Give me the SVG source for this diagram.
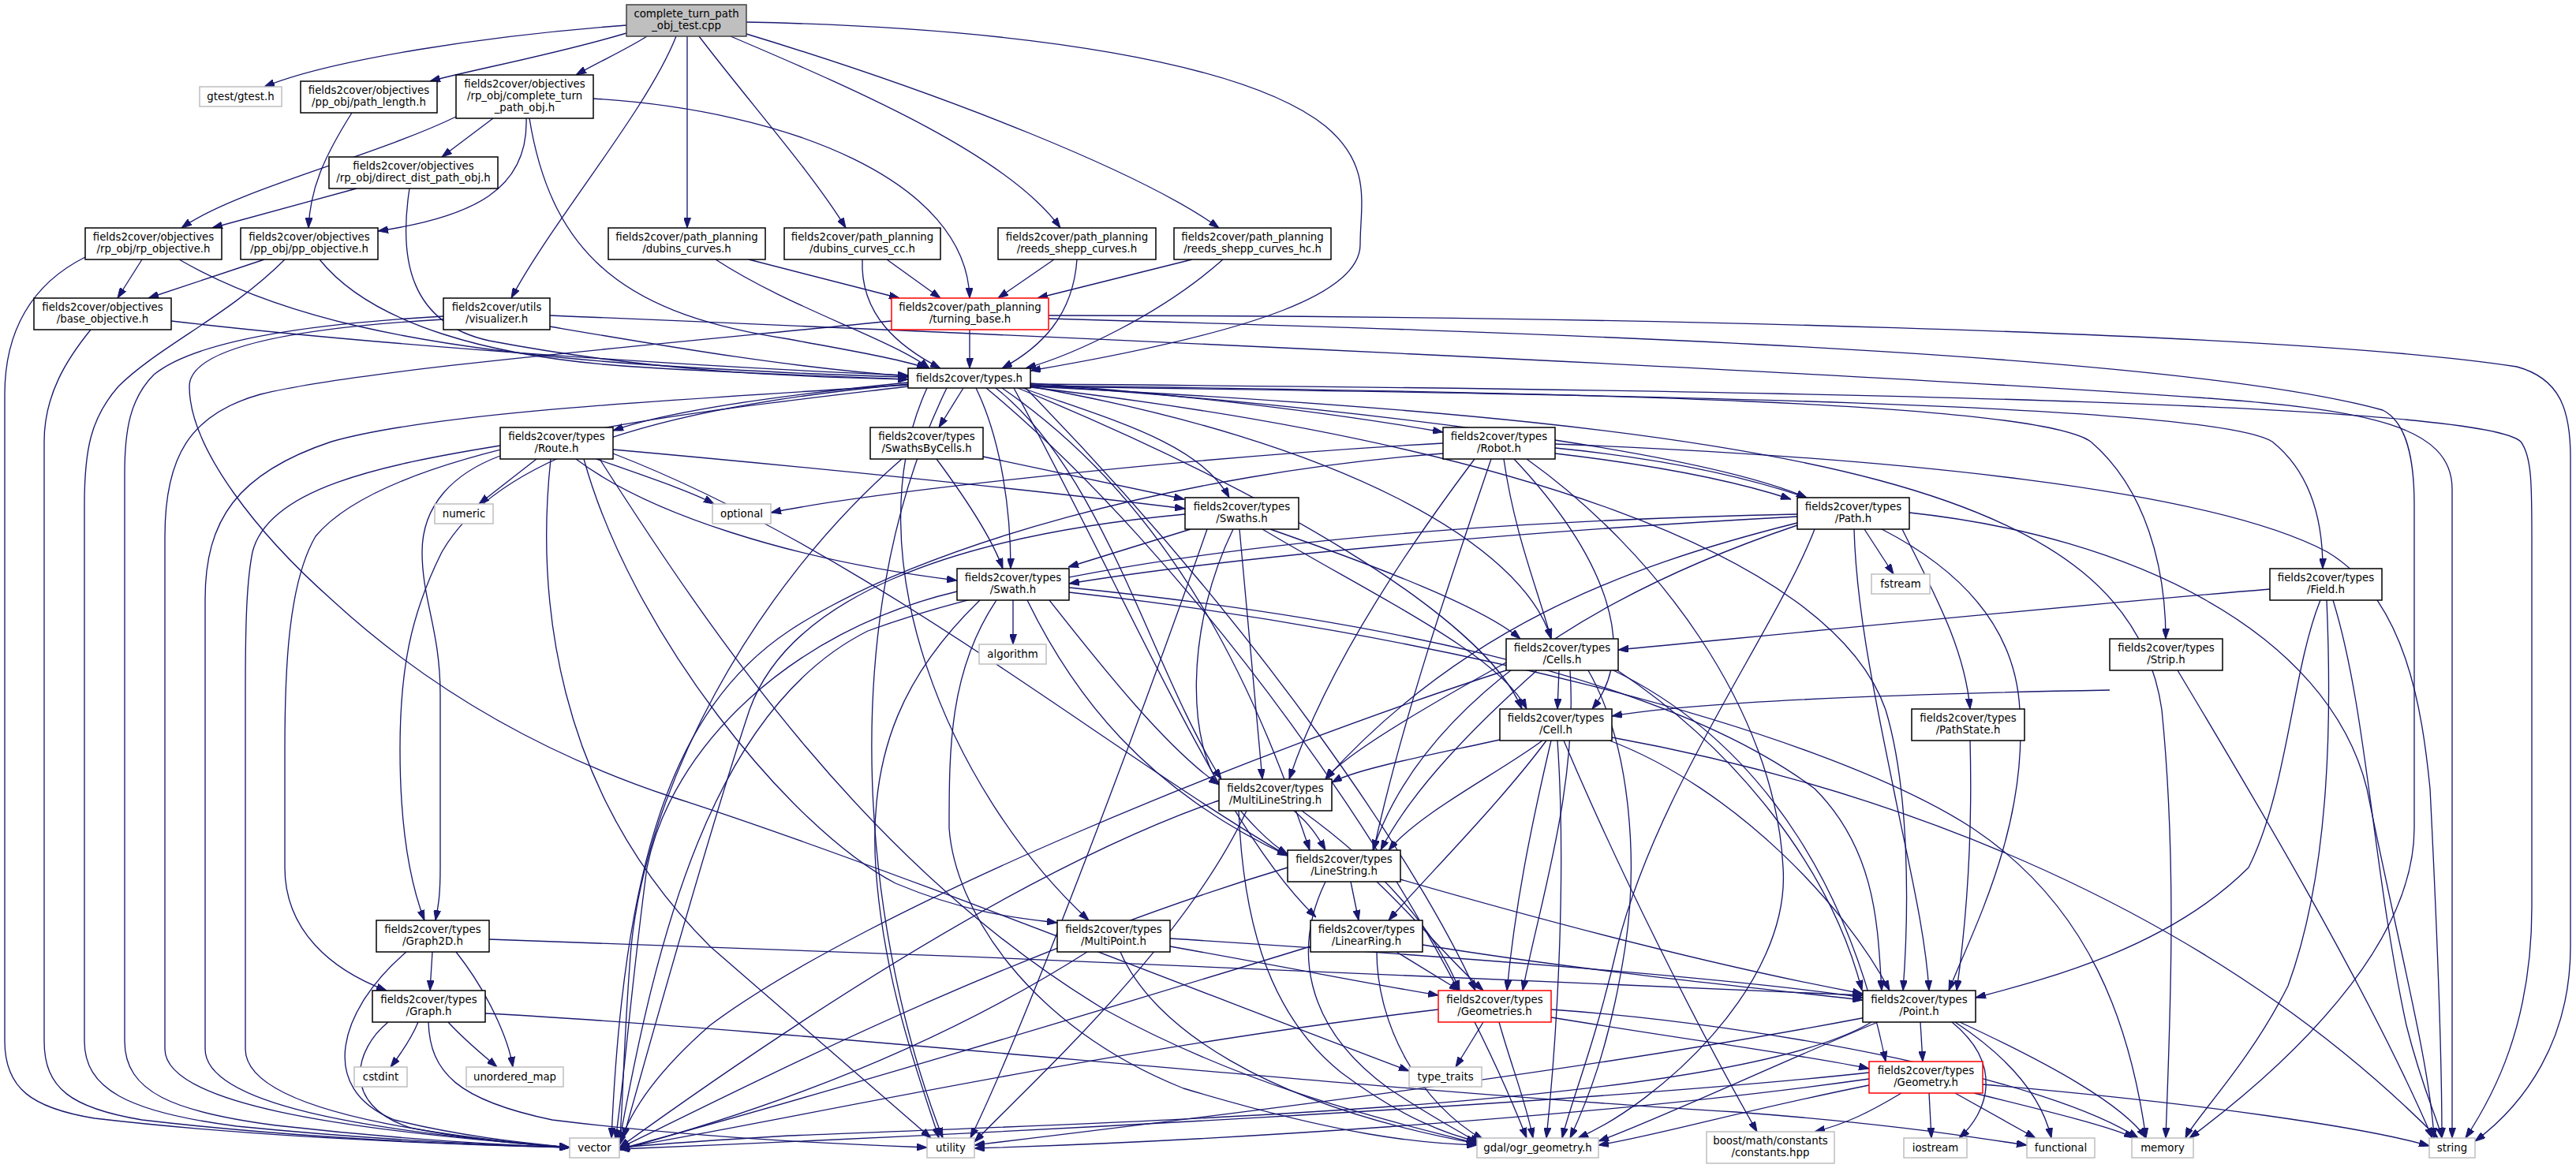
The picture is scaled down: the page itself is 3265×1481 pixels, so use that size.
<svg xmlns="http://www.w3.org/2000/svg" width="3265" height="1481" viewBox="0 0 3265 1481">
<style>
.e{fill:none;stroke:#191970;stroke-width:1.33;marker-end:url(#ah)}
.n rect{fill:#fff;stroke:#000;stroke-width:1.5}
.s rect{fill:#fff;stroke:#bfbfbf;stroke-width:1.5}
.r rect{fill:#fff;stroke:#ff0000;stroke-width:1.5}
.root rect{fill:#bfbfbf;stroke:#404040;stroke-width:1.5}
text{font-family:"DejaVu Sans","Liberation Sans",sans-serif;font-size:13.33px;text-anchor:middle;fill:#000}
</style>
<defs>
<marker id="ah" viewBox="0 0 13 9" refX="13" refY="4.5" markerWidth="13" markerHeight="9" markerUnits="userSpaceOnUse" orient="auto"><path d="M0,0 L13,4.5 L0,9 z" fill="#191970" stroke="#191970" stroke-width="1"/></marker>
</defs>
<rect width="3265" height="1481" fill="#fff"/>
<g id="edges">
<path class="e" d="M794,32 C620,45 420,75 335,110"/>
<path class="e" d="M794,42 C700,70 600,88 545,103"/>
<path class="e" d="M820,46 C795,62 760,78 730,95"/>
<path class="e" d="M857,46 C820,140 700,280 648,378"/>
<path class="e" d="M871,46 L871,289"/>
<path class="e" d="M886,46 C950,130 1030,220 1072,289"/>
<path class="e" d="M926,46 C1100,120 1280,200 1344,289"/>
<path class="e" d="M946,43 C1200,120 1450,220 1545,289"/>
<path class="e" d="M946,28 C1300,35 1580,80 1680,160 C1740,210 1724,260 1724,310 C1724,370 1600,420 1306,470"/>
<path class="e" d="M446,143 C410,200 393,240 391,289"/>
<path class="e" d="M625,150 L560,199"/>
<path class="e" d="M578,148 C470,200 300,240 230,289"/>
<path class="e" d="M667,150 C670,240 600,275 479,293"/>
<path class="e" d="M752,125 C1000,140 1225,230 1229,378"/>
<path class="e" d="M671,150 C700,330 800,400 1000,430 C1080,445 1140,455 1175,467"/>
<path class="e" d="M452,239 L269,289"/>
<path class="e" d="M519,239 C505,330 520,410 620,432 C820,470 1000,478 1151,481"/>
<path class="e" d="M180,329 L149,378"/>
<path class="e" d="M108,326 C40,360 6,420 6,500 L6,1320 C6,1380 40,1405 120,1418 C350,1445 600,1452 722,1455"/>
<path class="e" d="M227,329 C350,400 520,440 800,461 C950,471 1070,476 1151,478"/>
<path class="e" d="M335,329 L188,378"/>
<path class="e" d="M361,329 C290,400 200,440 150,490 C115,530 107,570 107,640 L107,1320 C107,1380 160,1410 300,1428 C500,1448 650,1452 722,1455"/>
<path class="e" d="M405,329 C470,410 620,455 820,466 C950,474 1080,478 1151,481"/>
<path class="e" d="M217,407 C500,440 900,466 1151,476"/>
<path class="e" d="M115,418 C85,455 56,500 56,560 L56,1320 C56,1380 90,1405 180,1420 C400,1446 620,1452 722,1455"/>
<path class="e" d="M697,414 C850,440 1000,466 1151,477"/>
<path class="e" d="M562,401 C400,410 250,430 195,475 C165,505 158,545 158,600 L158,1320 C158,1385 220,1410 350,1427 C500,1444 640,1452 722,1455"/>
<path class="e" d="M562,405 C440,412 240,430 240,490 C240,570 330,680 420,760 C550,880 700,960 850,1010 C1100,1090 1500,1250 1786,1358"/>
<path class="e" d="M697,400 C1300,425 2300,470 2800,505 C3000,520 3108,540 3108,620 L3108,1443"/>
<path class="e" d="M949,329 L1140,378"/>
<path class="e" d="M907,329 C1000,390 1130,430 1178,467"/>
<path class="e" d="M1124,329 L1192,378"/>
<path class="e" d="M1093,329 C1090,400 1140,440 1192,467"/>
<path class="e" d="M1336,329 L1265,378"/>
<path class="e" d="M1365,329 C1360,400 1320,440 1270,467"/>
<path class="e" d="M1511,329 L1315,378"/>
<path class="e" d="M1550,329 C1470,400 1360,450 1300,467"/>
<path class="e" d="M1229,418 L1229,467"/>
<path class="e" d="M1130,407 C800,440 450,470 330,500 C240,525 209,580 209,680 L209,1330 C209,1398 420,1432 722,1455"/>
<path class="e" d="M1329,400 C2000,400 2900,420 3190,465 C3245,480 3258,520 3258,580 L3258,1200 C3258,1320 3200,1400 3137,1447"/>
<path class="e" d="M1329,404 C1900,420 2750,445 3020,520 C3050,535 3060,580 3060,640 L3060,1050 C3060,1200 2900,1350 2775,1443"/>
<path class="e" d="M1151,485 C1000,500 850,520 777,546"/>
<path class="e" d="M1221,492 L1190,542"/>
<path class="e" d="M1306,486 C1500,500 1700,525 1829,548"/>
<path class="e" d="M1296,492 C1400,530 1520,560 1558,631"/>
<path class="e" d="M1306,488 C1700,515 2150,570 2290,631"/>
<path class="e" d="M1237,492 C1270,560 1281,650 1281,721"/>
<path class="e" d="M1306,490 C1700,560 1930,690 1966,810"/>
<path class="e" d="M1290,492 C1600,620 1880,780 1929,899"/>
<path class="e" d="M1306,490 C2000,500 2800,510 2880,560 C2930,600 2944,660 2944,721"/>
<path class="e" d="M1306,489 C2000,497 2580,510 2650,560 C2720,620 2745,720 2745,810"/>
<path class="e" d="M1262,492 C1400,600 1460,850 1548,988"/>
<path class="e" d="M1270,492 C1500,650 1600,900 1660,1078"/>
<path class="e" d="M1285,492 C1450,800 1550,1050 1668,1163"/>
<path class="e" d="M1175,492 C1080,700 1200,1000 1380,1167"/>
<path class="e" d="M1306,491 C1900,560 2320,700 2390,900 C2420,1000 2420,1150 2412,1256"/>
<path class="e" d="M1300,492 C1600,800 1800,1100 1870,1256"/>
<path class="e" d="M1151,487 C900,510 640,560 560,700 C520,780 507,850 507,950 C507,1050 520,1120 538,1167"/>
<path class="e" d="M1151,490 C900,520 500,560 400,680 C365,740 361,850 361,950 L361,1100 C361,1180 420,1230 490,1256"/>
<path class="e" d="M1151,488 C900,505 560,520 420,560 C300,600 260,660 260,760 L260,1330 C260,1400 460,1434 722,1455"/>
<path class="e" d="M1250,492 C1500,700 1800,1100 1935,1443"/>
<path class="e" d="M1306,487 C2400,495 3150,515 3195,560 C3210,580 3209,620 3209,700 L3209,1150 C3209,1300 3160,1390 3125,1443"/>
<path class="e" d="M1306,490 C2300,540 2700,620 2740,900 C2760,1100 2750,1300 2745,1443"/>
<path class="e" d="M1200,492 C1050,800 1100,1200 1195,1443"/>
<path class="e" d="M680,582 L607,639"/>
<path class="e" d="M756,582 C830,608 880,625 905,639"/>
<path class="e" d="M777,570 C1000,590 1300,620 1502,645"/>
<path class="e" d="M730,582 C820,650 1000,710 1213,736"/>
<path class="e" d="M634,578 C575,600 535,640 535,700 C535,760 558,800 558,880 L558,1100 C558,1140 555,1150 552,1167"/>
<path class="e" d="M634,565 C480,590 340,620 320,700 C312,740 311,800 311,880 L311,1330 C311,1400 500,1436 722,1455"/>
<path class="e" d="M698,582 C680,750 700,1000 900,1200 C1050,1330 1130,1400 1180,1443"/>
<path class="e" d="M760,582 C900,800 1100,1100 1400,1280 C1600,1390 1800,1430 1872,1450"/>
<path class="e" d="M740,582 C800,800 1000,1050 1135,1120 C1230,1160 1300,1165 1340,1170"/>
<path class="e" d="M777,575 C1100,700 1400,950 1632,1085"/>
<path class="e" d="M1246,579 L1501,633"/>
<path class="e" d="M1187,582 C1230,640 1260,690 1271,721"/>
<path class="e" d="M1143,582 C950,750 820,1000 800,1200 C790,1320 790,1400 785,1452"/>
<path class="e" d="M1829,562 C1500,580 1100,625 977,650"/>
<path class="e" d="M1829,575 C1500,600 1166,690 1000,800 C850,900 790,1100 775,1443"/>
<path class="e" d="M1869,582 C1780,700 1680,850 1634,988"/>
<path class="e" d="M1890,582 C1850,700 1780,900 1741,1078"/>
<path class="e" d="M1906,582 C1920,680 1950,750 1966,810"/>
<path class="e" d="M1919,582 C2030,700 2080,820 2018,899"/>
<path class="e" d="M1935,582 C2100,700 2250,900 2260,1100 C2270,1250 2100,1400 2000,1443"/>
<path class="e" d="M1971,575 C2100,590 2200,610 2270,633"/>
<path class="e" d="M1971,563 C2400,580 2800,620 2950,700 C3050,760 3070,900 3080,1000 C3090,1200 3095,1350 3095,1443"/>
<path class="e" d="M1971,568 C2300,600 2550,700 2560,900 C2570,1050 2500,1180 2470,1256"/>
<path class="e" d="M1509,671 L1354,719"/>
<path class="e" d="M1610,671 C1750,720 1880,770 1927,810"/>
<path class="e" d="M1600,671 C1750,760 1900,830 1935,899"/>
<path class="e" d="M1571,671 L1600,988"/>
<path class="e" d="M1563,671 C1500,800 1506,950 1550,1000 C1580,1040 1610,1070 1632,1083"/>
<path class="e" d="M1502,652 C1200,680 1000,760 950,900 C900,1050 830,1300 790,1443"/>
<path class="e" d="M1530,671 C1450,900 1300,1300 1230,1443"/>
<path class="e" d="M1284,761 L1284,817"/>
<path class="e" d="M1242,761 C1150,850 1100,950 1110,1100 C1120,1250 1170,1380 1190,1443"/>
<path class="e" d="M1263,761 C1203,850 1203,950 1203,1050 C1210,1150 1300,1300 1500,1380 C1700,1440 1800,1450 1872,1452"/>
<path class="e" d="M1302,761 C1360,880 1450,1000 1632,1085"/>
<path class="e" d="M1330,761 C1400,850 1480,950 1545,995"/>
<path class="e" d="M1355,745 C1700,780 2100,850 2300,1000 C2380,1080 2380,1180 2385,1256"/>
<path class="e" d="M1355,751 C1800,800 2300,920 2500,1050 C2650,1150 2700,1300 2720,1443"/>
<path class="e" d="M1213,750 C1000,800 850,950 820,1100 C800,1250 790,1380 780,1445"/>
<path class="e" d="M2278,655 C2000,670 1600,700 1355,740"/>
<path class="e" d="M2278,652 C1900,660 1400,690 1100,800 C900,900 830,1200 785,1448"/>
<path class="e" d="M2278,663 C2050,720 1850,800 1680,988"/>
<path class="e" d="M2278,666 C2000,760 1800,900 1740,1078"/>
<path class="e" d="M2411,671 C2450,750 2490,820 2497,899"/>
<path class="e" d="M2363,671 L2400,728"/>
<path class="e" d="M2350,671 C2353,780 2380,900 2400,1000 C2420,1100 2440,1180 2445,1256"/>
<path class="e" d="M2420,650 C2700,680 2950,800 3000,1000 C3040,1200 3080,1350 3085,1443"/>
<path class="e" d="M2300,671 C2250,800 2100,1000 2050,1200 C2020,1330 1990,1400 1980,1443"/>
<path class="e" d="M2497,939 C2500,1050 2495,1150 2480,1256"/>
<path class="e" d="M2877,747 C2600,770 2300,800 2051,824"/>
<path class="e" d="M2941,761 C2905,850 2900,1000 2850,1100 C2750,1200 2600,1240 2504,1265"/>
<path class="e" d="M2949,761 C2955,900 2955,1100 2900,1250 C2850,1350 2780,1420 2770,1443"/>
<path class="e" d="M2957,761 C3000,900 3007,1100 3050,1300 C3070,1380 3090,1420 3095,1443"/>
<path class="e" d="M2674,875 C2400,880 2150,890 2043,908"/>
<path class="e" d="M2760,850 C2850,1000 3000,1250 3083,1443"/>
<path class="e" d="M1909,850 C1600,950 1100,1150 900,1300 C820,1370 795,1420 785,1452"/>
<path class="e" d="M1948,850 C1870,920 1790,1000 1750,1078"/>
<path class="e" d="M1976,850 L1974,899"/>
<path class="e" d="M2013,850 C2070,950 2075,1100 2060,1200 C2040,1330 2010,1400 1990,1443"/>
<path class="e" d="M2050,850 C2200,950 2320,1100 2360,1256"/>
<path class="e" d="M2045,850 C2250,950 2350,1150 2390,1346"/>
<path class="e" d="M1909,840 C1800,900 1700,960 1680,988"/>
<path class="e" d="M1990,850 C2000,1000 1950,1150 1930,1256"/>
<path class="e" d="M1901,938 C1800,960 1720,975 1688,992"/>
<path class="e" d="M1955,939 C1900,980 1800,1030 1760,1078"/>
<path class="e" d="M1960,939 C1900,1020 1800,1120 1760,1167"/>
<path class="e" d="M1966,939 C1940,1050 1920,1150 1910,1256"/>
<path class="e" d="M1974,939 C1985,1100 1975,1300 1960,1443"/>
<path class="e" d="M1982,939 C2050,1100 2150,1300 2227,1435"/>
<path class="e" d="M2040,939 C2200,1000 2340,1150 2395,1256"/>
<path class="e" d="M2043,935 C2400,1000 2800,1150 3090,1443"/>
<path class="e" d="M1640,1028 C1660,1045 1670,1060 1680,1078"/>
<path class="e" d="M1545,1015 C1300,1100 1000,1300 785,1455"/>
<path class="e" d="M1580,1028 C1500,1200 1300,1380 1235,1448"/>
<path class="e" d="M1570,1028 C1575,1150 1600,1280 1700,1360 C1780,1420 1840,1440 1872,1447"/>
<path class="e" d="M1650,1028 C1750,1100 1820,1180 1850,1256"/>
<path class="e" d="M1712,1118 L1722,1167"/>
<path class="e" d="M1745,1118 C1800,1170 1830,1210 1880,1256"/>
<path class="e" d="M1775,1115 C2000,1180 2200,1230 2361,1260"/>
<path class="e" d="M1680,1118 C1640,1200 1650,1300 1760,1380 C1820,1420 1860,1440 1875,1450"/>
<path class="e" d="M1632,1100 C1300,1200 1000,1350 785,1456"/>
<path class="e" d="M1770,1207 L1850,1256"/>
<path class="e" d="M1803,1198 C2000,1230 2200,1250 2361,1268"/>
<path class="e" d="M1745,1207 C1745,1300 1800,1400 1880,1445"/>
<path class="e" d="M1661,1200 C1400,1280 1000,1400 785,1457"/>
<path class="e" d="M1483,1200 C1650,1230 1750,1250 1823,1262"/>
<path class="e" d="M1483,1190 C1800,1210 2200,1240 2361,1265"/>
<path class="e" d="M1420,1207 C1460,1300 1600,1400 1872,1450"/>
<path class="e" d="M1378,1207 C1200,1320 1000,1400 785,1458"/>
<path class="e" d="M548,1207 L545,1256"/>
<path class="e" d="M578,1207 C620,1260 645,1320 650,1353"/>
<path class="e" d="M515,1207 C430,1280 400,1380 500,1420 C600,1445 700,1452 722,1455"/>
<path class="e" d="M620,1191 C1200,1210 1900,1240 2361,1262"/>
<path class="e" d="M530,1296 C520,1320 505,1340 495,1353"/>
<path class="e" d="M568,1296 C590,1320 615,1340 630,1353"/>
<path class="e" d="M492,1296 C450,1330 430,1400 520,1430 C620,1450 700,1453 722,1455"/>
<path class="e" d="M543,1296 C545,1360 580,1395 700,1420 C900,1445 1100,1452 1175,1455"/>
<path class="e" d="M615,1285 C1000,1305 1700,1380 2200,1410 C2400,1425 2500,1442 2569,1452"/>
<path class="e" d="M1880,1296 L1845,1353"/>
<path class="e" d="M1900,1296 C1915,1350 1935,1400 1943,1443"/>
<path class="e" d="M1966,1290 C2150,1320 2300,1340 2369,1355"/>
<path class="e" d="M1966,1280 C2250,1300 2600,1370 2710,1443"/>
<path class="e" d="M1823,1280 C1400,1330 1000,1420 785,1456"/>
<path class="e" d="M2434,1296 L2437,1346"/>
<path class="e" d="M2474,1296 C2540,1350 2520,1410 2483,1443"/>
<path class="e" d="M2478,1296 C2560,1350 2590,1400 2600,1443"/>
<path class="e" d="M2484,1296 C2600,1350 2690,1400 2720,1443"/>
<path class="e" d="M2372,1296 C2200,1400 1500,1420 1000,1440 C900,1446 820,1452 785,1455"/>
<path class="e" d="M2380,1296 C2250,1350 2100,1420 2026,1447"/>
<path class="e" d="M2365,1290 C2000,1360 1500,1420 1235,1452"/>
<path class="e" d="M2445,1386 L2448,1443"/>
<path class="e" d="M2478,1386 L2580,1443"/>
<path class="e" d="M2502,1386 C2600,1410 2680,1430 2705,1443"/>
<path class="e" d="M2513,1375 C2800,1400 3000,1430 3079,1453"/>
<path class="e" d="M2369,1360 C2000,1400 1200,1440 785,1457"/>
<path class="e" d="M2369,1368 C2000,1420 1500,1448 1235,1456"/>
<path class="e" d="M2369,1376 C2200,1410 2100,1440 2026,1452"/>
<path class="e" d="M2410,1386 C2370,1410 2340,1425 2300,1435"/>
</g>
<g id="root" class="root"><rect x="794" y="6" width="152" height="40"/><text x="870" y="22">complete_turn_path</text><text x="870" y="37">_obj_test.cpp</text></g>
<g id="gtest" class="s"><rect x="253" y="110" width="104" height="25"/><text x="305" y="127">gtest/gtest.h</text></g>
<g id="path_length" class="n"><rect x="381" y="103" width="173" height="40"/><text x="467.5" y="119">fields2cover/objectives</text><text x="467.5" y="134">/pp_obj/path_length.h</text></g>
<g id="complete_turn_path_obj" class="n"><rect x="578" y="95" width="174" height="55"/><text x="665" y="111">fields2cover/objectives</text><text x="665" y="126">/rp_obj/complete_turn</text><text x="665" y="141">_path_obj.h</text></g>
<g id="direct_dist_path_obj" class="n"><rect x="417" y="199" width="214" height="40"/><text x="524" y="215">fields2cover/objectives</text><text x="524" y="230">/rp_obj/direct_dist_path_obj.h</text></g>
<g id="rp_objective" class="n"><rect x="108" y="289" width="173" height="40"/><text x="194.5" y="305">fields2cover/objectives</text><text x="194.5" y="320">/rp_obj/rp_objective.h</text></g>
<g id="pp_objective" class="n"><rect x="305" y="289" width="174" height="40"/><text x="392" y="305">fields2cover/objectives</text><text x="392" y="320">/pp_obj/pp_objective.h</text></g>
<g id="base_objective" class="n"><rect x="43" y="378" width="174" height="40"/><text x="130" y="394">fields2cover/objectives</text><text x="130" y="409">/base_objective.h</text></g>
<g id="visualizer" class="n"><rect x="562" y="378" width="135" height="40"/><text x="629.5" y="394">fields2cover/utils</text><text x="629.5" y="409">/visualizer.h</text></g>
<g id="dubins_curves" class="n"><rect x="771" y="289" width="199" height="40"/><text x="870.5" y="305">fields2cover/path_planning</text><text x="870.5" y="320">/dubins_curves.h</text></g>
<g id="dubins_curves_cc" class="n"><rect x="994" y="289" width="198" height="40"/><text x="1093" y="305">fields2cover/path_planning</text><text x="1093" y="320">/dubins_curves_cc.h</text></g>
<g id="reeds_shepp_curves" class="n"><rect x="1265" y="289" width="200" height="40"/><text x="1365" y="305">fields2cover/path_planning</text><text x="1365" y="320">/reeds_shepp_curves.h</text></g>
<g id="reeds_shepp_curves_hc" class="n"><rect x="1488" y="289" width="199" height="40"/><text x="1587.5" y="305">fields2cover/path_planning</text><text x="1587.5" y="320">/reeds_shepp_curves_hc.h</text></g>
<g id="turning_base" class="r"><rect x="1130" y="378" width="199" height="40"/><text x="1229.5" y="394">fields2cover/path_planning</text><text x="1229.5" y="409">/turning_base.h</text></g>
<g id="types" class="n"><rect x="1151" y="467" width="155" height="25"/><text x="1228.5" y="484">fields2cover/types.h</text></g>
<g id="Route" class="n"><rect x="634" y="542" width="143" height="40"/><text x="705.5" y="558">fields2cover/types</text><text x="705.5" y="573">/Route.h</text></g>
<g id="numeric" class="s"><rect x="551" y="639" width="74" height="25"/><text x="588" y="656">numeric</text></g>
<g id="SwathsByCells" class="n"><rect x="1103" y="542" width="143" height="40"/><text x="1174.5" y="558">fields2cover/types</text><text x="1174.5" y="573">/SwathsByCells.h</text></g>
<g id="optional" class="s"><rect x="903" y="639" width="74" height="25"/><text x="940" y="656">optional</text></g>
<g id="Robot" class="n"><rect x="1829" y="542" width="142" height="40"/><text x="1900" y="558">fields2cover/types</text><text x="1900" y="573">/Robot.h</text></g>
<g id="Swaths" class="n"><rect x="1502" y="631" width="144" height="40"/><text x="1574" y="647">fields2cover/types</text><text x="1574" y="662">/Swaths.h</text></g>
<g id="Path" class="n"><rect x="2278" y="631" width="142" height="40"/><text x="2349" y="647">fields2cover/types</text><text x="2349" y="662">/Path.h</text></g>
<g id="fstream" class="s"><rect x="2372" y="728" width="74" height="25"/><text x="2409" y="745">fstream</text></g>
<g id="Swath" class="n"><rect x="1213" y="721" width="142" height="40"/><text x="1284" y="737">fields2cover/types</text><text x="1284" y="752">/Swath.h</text></g>
<g id="algorithm" class="s"><rect x="1241" y="817" width="85" height="25"/><text x="1283.5" y="834">algorithm</text></g>
<g id="Field" class="n"><rect x="2877" y="721" width="142" height="40"/><text x="2948" y="737">fields2cover/types</text><text x="2948" y="752">/Field.h</text></g>
<g id="Cells" class="n"><rect x="1909" y="810" width="142" height="40"/><text x="1980" y="826">fields2cover/types</text><text x="1980" y="841">/Cells.h</text></g>
<g id="Strip" class="n"><rect x="2674" y="810" width="143" height="40"/><text x="2745.5" y="826">fields2cover/types</text><text x="2745.5" y="841">/Strip.h</text></g>
<g id="Cell" class="n"><rect x="1901" y="899" width="142" height="40"/><text x="1972" y="915">fields2cover/types</text><text x="1972" y="930">/Cell.h</text></g>
<g id="PathState" class="n"><rect x="2423" y="899" width="143" height="40"/><text x="2494.5" y="915">fields2cover/types</text><text x="2494.5" y="930">/PathState.h</text></g>
<g id="MultiLineString" class="n"><rect x="1545" y="988" width="143" height="40"/><text x="1616.5" y="1004">fields2cover/types</text><text x="1616.5" y="1019">/MultiLineString.h</text></g>
<g id="LineString" class="n"><rect x="1632" y="1078" width="143" height="40"/><text x="1703.5" y="1094">fields2cover/types</text><text x="1703.5" y="1109">/LineString.h</text></g>
<g id="LinearRing" class="n"><rect x="1661" y="1167" width="142" height="40"/><text x="1732" y="1183">fields2cover/types</text><text x="1732" y="1198">/LinearRing.h</text></g>
<g id="Graph2D" class="n"><rect x="477" y="1167" width="143" height="40"/><text x="548.5" y="1183">fields2cover/types</text><text x="548.5" y="1198">/Graph2D.h</text></g>
<g id="MultiPoint" class="n"><rect x="1340" y="1167" width="143" height="40"/><text x="1411.5" y="1183">fields2cover/types</text><text x="1411.5" y="1198">/MultiPoint.h</text></g>
<g id="Graph" class="n"><rect x="472" y="1256" width="143" height="40"/><text x="543.5" y="1272">fields2cover/types</text><text x="543.5" y="1287">/Graph.h</text></g>
<g id="Geometries" class="r"><rect x="1823" y="1256" width="143" height="40"/><text x="1894.5" y="1272">fields2cover/types</text><text x="1894.5" y="1287">/Geometries.h</text></g>
<g id="Point" class="n"><rect x="2361" y="1256" width="143" height="40"/><text x="2432.5" y="1272">fields2cover/types</text><text x="2432.5" y="1287">/Point.h</text></g>
<g id="Geometry" class="r"><rect x="2369" y="1346" width="144" height="40"/><text x="2441" y="1362">fields2cover/types</text><text x="2441" y="1377">/Geometry.h</text></g>
<g id="cstdint" class="s"><rect x="449" y="1353" width="67" height="25"/><text x="482.5" y="1370">cstdint</text></g>
<g id="unordered_map" class="s"><rect x="591" y="1353" width="123" height="25"/><text x="652.5" y="1370">unordered_map</text></g>
<g id="type_traits" class="s"><rect x="1786" y="1353" width="92" height="25"/><text x="1832" y="1370">type_traits</text></g>
<g id="vector" class="s"><rect x="722" y="1443" width="63" height="25"/><text x="753.5" y="1460">vector</text></g>
<g id="utility" class="s"><rect x="1175" y="1443" width="60" height="25"/><text x="1205" y="1460">utility</text></g>
<g id="gdal_ogr_geometry" class="s"><rect x="1872" y="1443" width="154" height="25"/><text x="1949" y="1460">gdal/ogr_geometry.h</text></g>
<g id="boost_constants" class="s"><rect x="2163" y="1435" width="162" height="40"/><text x="2244" y="1451">boost/math/constants</text><text x="2244" y="1466">/constants.hpp</text></g>
<g id="iostream" class="s"><rect x="2413" y="1443" width="80" height="25"/><text x="2453" y="1460">iostream</text></g>
<g id="functional" class="s"><rect x="2569" y="1443" width="86" height="25"/><text x="2612" y="1460">functional</text></g>
<g id="memory" class="s"><rect x="2702" y="1443" width="78" height="25"/><text x="2741" y="1460">memory</text></g>
<g id="string" class="s"><rect x="3079" y="1443" width="58" height="25"/><text x="3108" y="1460">string</text></g>
</svg>
